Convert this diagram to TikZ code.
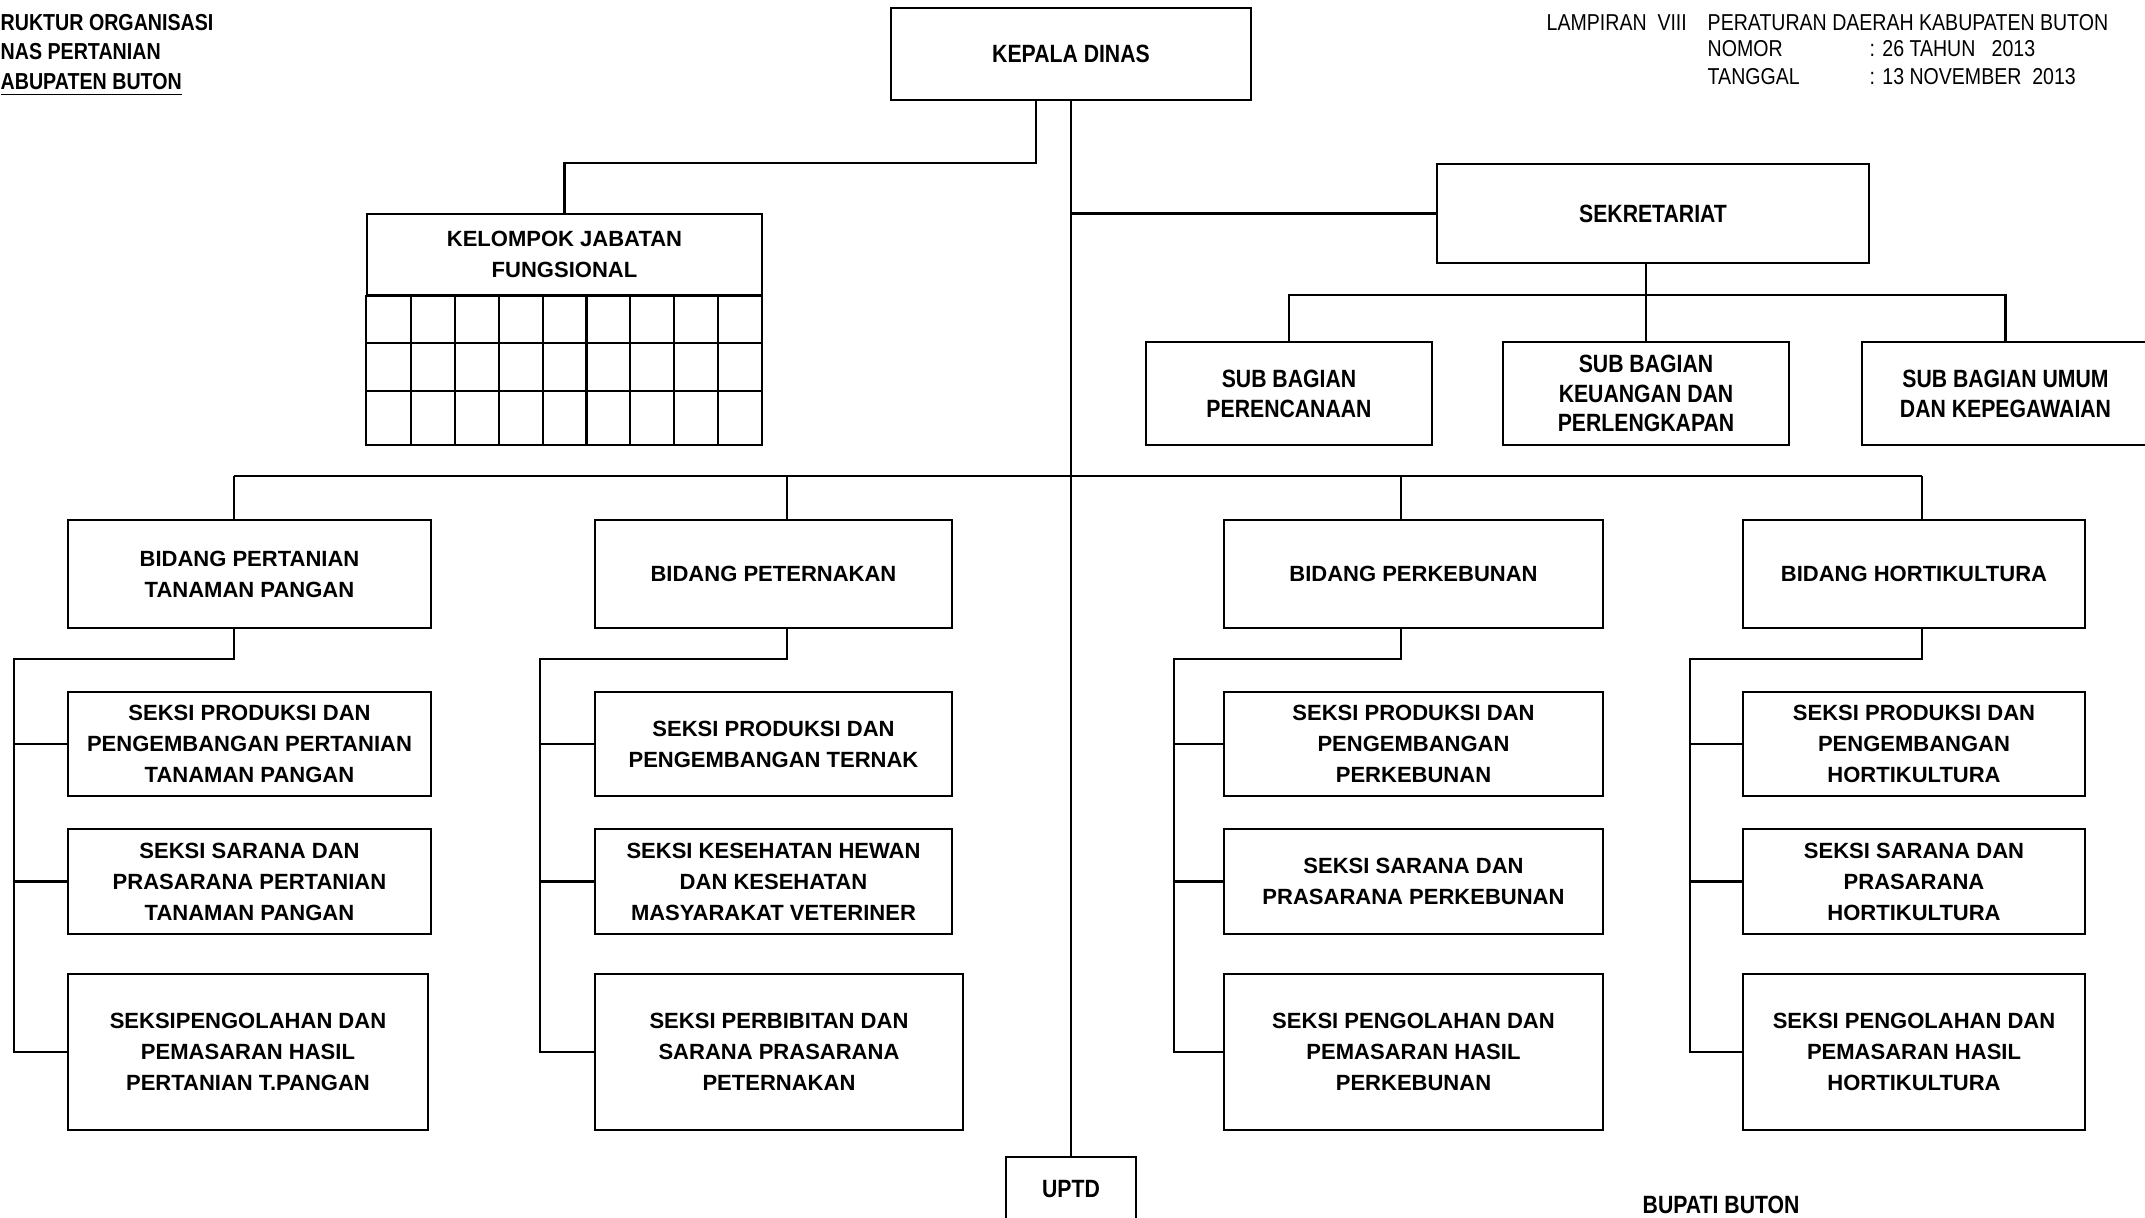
\documentclass[tikz,border=0pt]{standalone}
\usepackage{fontspec}
\setmainfont{Liberation Sans}
\newfontfamily\narrowfont[FakeStretch=0.85]{Liberation Sans}
\usepackage{tikz}

\tikzset{
	link/.style={line width=0.6pt},
	box/.style={draw, line width=0.6pt, inner sep=0pt, align=center,
		font=\bfseries\fontsize{6.26}{8.8}\selectfont},
	nbox/.style={box, font=\narrowfont\bfseries\fontsize{7.1}{8.5}\selectfont},
	head/.style={inner sep=0pt, anchor=west, font=\narrowfont\fontsize{6.54}{7.7}\selectfont},
	title/.style={head, font=\narrowfont\bfseries\fontsize{6.57}{8.2}\selectfont},
}

\begin{document}
\begin{tikzpicture}[x=0.01cm, y=-0.01cm]
	\useasboundingbox (0,0) rectangle (2145,1218);

	% judul
	\node[title] (ttl1) at (0,23) {RUKTUR ORGANISASI};
	\node[title] (ttl2) at (0,52) {NAS PERTANIAN};
	\node[title] (ttl3) at (0,85) {\underline{ABUPATEN BUTON}};
	\node[head] (lamp) at (1546,23) {LAMPIRAN~~VIII};
	\node[head] (perda) at (1707,23) {PERATURAN DAERAH KABUPATEN BUTON};
	\node[head] (nomor) at (1707,49) {NOMOR};
	\node[head] (nomorval) at (1869,49) {: 26 TAHUN~~~2013};
	\node[head] (tgl) at (1707,77) {TANGGAL};
	\node[head] (tglval) at (1869,77) {: 13 NOVEMBER~~2013};

	% pimpinan dan staf
	\node[nbox, minimum width=3.6cm, minimum height=0.92cm] (kepala) at (1071,54) {KEPALA DINAS};
	\node[box, minimum width=3.95cm, minimum height=0.81cm] (kjf) at (564.5,254.5) {KELOMPOK JABATAN\\FUNGSIONAL};
	\draw[link] (kjf.south west) rectangle (762,445);
	\draw[link] (367,343) -- (762,343);
	\draw[link] (367,391) -- (762,391);
	\draw[link] (410.9,295) -- (410.9,445);
	\draw[link] (454.8,295) -- (454.8,445);
	\draw[link] (498.7,295) -- (498.7,445);
	\draw[link] (542.6,295) -- (542.6,445);
	\draw[link] (586.5,295) -- (586.5,445);
	\draw[link] (630.4,295) -- (630.4,445);
	\draw[link] (674.3,295) -- (674.3,445);
	\draw[link] (718.2,295) -- (718.2,445);

	\node[nbox, minimum width=4.31cm, minimum height=0.99cm] (sek) at (1653,213.5) {SEKRETARIAT};
	\node[nbox, minimum width=2.86cm, minimum height=1.03cm] (per) at (1289,393.5) {SUB BAGIAN\\PERENCANAAN};
	\node[nbox, minimum width=2.86cm, minimum height=1.03cm] (keu) at (1646,393.5) {SUB BAGIAN\\KEUANGAN DAN\\PERLENGKAPAN};
	\node[nbox, minimum width=2.87cm, minimum height=1.03cm] (umum) at (2005.5,393.5) {SUB BAGIAN UMUM\\DAN KEPEGAWAIAN};

	% bidang
	\node[box, minimum width=3.63cm, minimum height=1.08cm] (bpt) at (249.5,574) {BIDANG PERTANIAN\\TANAMAN PANGAN};
	\node[box, minimum width=3.57cm, minimum height=1.08cm] (bpet) at (773.5,574) {BIDANG PETERNAKAN};
	\node[box, minimum width=3.79cm, minimum height=1.08cm] (bkeb) at (1413.5,574) {BIDANG PERKEBUNAN};
	\node[box, minimum width=3.42cm, minimum height=1.08cm] (bhor) at (1914,574) {BIDANG HORTIKULTURA};

	% seksi
	\node[box, minimum width=3.63cm, minimum height=1.04cm] (tp1) at (249.5,744) {SEKSI PRODUKSI DAN\\PENGEMBANGAN PERTANIAN\\TANAMAN PANGAN};
	\node[box, minimum width=3.63cm, minimum height=1.05cm] (tp2) at (249.5,881.5) {SEKSI SARANA DAN\\PRASARANA PERTANIAN\\TANAMAN PANGAN};
	\node[box, minimum width=3.6cm, minimum height=1.56cm] (tp3) at (248,1052) {SEKSIPENGOLAHAN DAN\\PEMASARAN HASIL\\PERTANIAN T.PANGAN};

	\node[box, minimum width=3.57cm, minimum height=1.04cm] (pet1) at (773.5,744) {SEKSI PRODUKSI DAN\\PENGEMBANGAN TERNAK};
	\node[box, minimum width=3.57cm, minimum height=1.05cm] (pet2) at (773.5,881.5) {SEKSI KESEHATAN HEWAN\\DAN KESEHATAN\\MASYARAKAT VETERINER};
	\node[box, minimum width=3.68cm, minimum height=1.56cm] (pet3) at (779,1052) {SEKSI PERBIBITAN DAN\\SARANA PRASARANA\\PETERNAKAN};

	\node[box, minimum width=3.79cm, minimum height=1.04cm] (keb1) at (1413.5,744) {SEKSI PRODUKSI DAN\\PENGEMBANGAN\\PERKEBUNAN};
	\node[box, minimum width=3.79cm, minimum height=1.05cm] (keb2) at (1413.5,881.5) {SEKSI SARANA DAN\\PRASARANA PERKEBUNAN};
	\node[box, minimum width=3.79cm, minimum height=1.56cm] (keb3) at (1413.5,1052) {SEKSI PENGOLAHAN DAN\\PEMASARAN HASIL\\PERKEBUNAN};

	\node[box, minimum width=3.42cm, minimum height=1.04cm] (hor1) at (1914,744) {SEKSI PRODUKSI DAN\\PENGEMBANGAN\\HORTIKULTURA};
	\node[box, minimum width=3.42cm, minimum height=1.05cm] (hor2) at (1914,881.5) {SEKSI SARANA DAN\\PRASARANA\\HORTIKULTURA};
	\node[box, minimum width=3.42cm, minimum height=1.56cm] (hor3) at (1914,1052) {SEKSI PENGOLAHAN DAN\\PEMASARAN HASIL\\HORTIKULTURA};

	\node[nbox, minimum width=1.3cm, minimum height=0.64cm] (uptd) at (1071,1189) {UPTD};
	\node[title, font=\narrowfont\bfseries\fontsize{7.1}{8.5}\selectfont] (bupati) at (1642,1205) {BUPATI BUTON};

	% garis
	\coordinate (kjfbend) at (1036,163);
	\coordinate (subbus) at (1646,295);
	\coordinate (tpdrop) at (234,476);
	\coordinate (petdrop) at (787,476);
	\coordinate (kebdrop) at (1401,476);
	\coordinate (hordrop) at (1922,476);
	\coordinate (tprail) at (14,659);
	\coordinate (petrail) at (540,659);
	\coordinate (kebrail) at (1174,659);
	\coordinate (horrail) at (1690,659);

	\draw[link] (kepala.south) -- (uptd.north);
	\draw[link] (kepala.south -| kjfbend) -- (kjfbend) -| (kjf.north);
	\draw[link] (kepala.south |- sek.west) -- (sek.west);
	\draw[link] (sek.south -| keu.north) -- (keu.north);
	\draw[link] (per.north) |- (subbus) -| (umum.north);

	\draw[link] (tpdrop) -- (hordrop);
	\draw[link] (tpdrop) -- (tpdrop |- bpt.north);
	\draw[link] (petdrop) -- (petdrop |- bpet.north);
	\draw[link] (kebdrop) -- (kebdrop |- bkeb.north);
	\draw[link] (hordrop) -- (hordrop |- bhor.north);

	\draw[link] (tpdrop |- bpt.south) |- (tprail) |- (tp3.west);
	\draw[link] (tprail |- tp1.west) -- (tp1.west);
	\draw[link] (tprail |- tp2.west) -- (tp2.west);

	\draw[link] (petdrop |- bpet.south) |- (petrail) |- (pet3.west);
	\draw[link] (petrail |- pet1.west) -- (pet1.west);
	\draw[link] (petrail |- pet2.west) -- (pet2.west);

	\draw[link] (kebdrop |- bkeb.south) |- (kebrail) |- (keb3.west);
	\draw[link] (kebrail |- keb1.west) -- (keb1.west);
	\draw[link] (kebrail |- keb2.west) -- (keb2.west);

	\draw[link] (hordrop |- bhor.south) |- (horrail) |- (hor3.west);
	\draw[link] (horrail |- hor1.west) -- (hor1.west);
	\draw[link] (horrail |- hor2.west) -- (hor2.west);
\end{tikzpicture}
\end{document}
